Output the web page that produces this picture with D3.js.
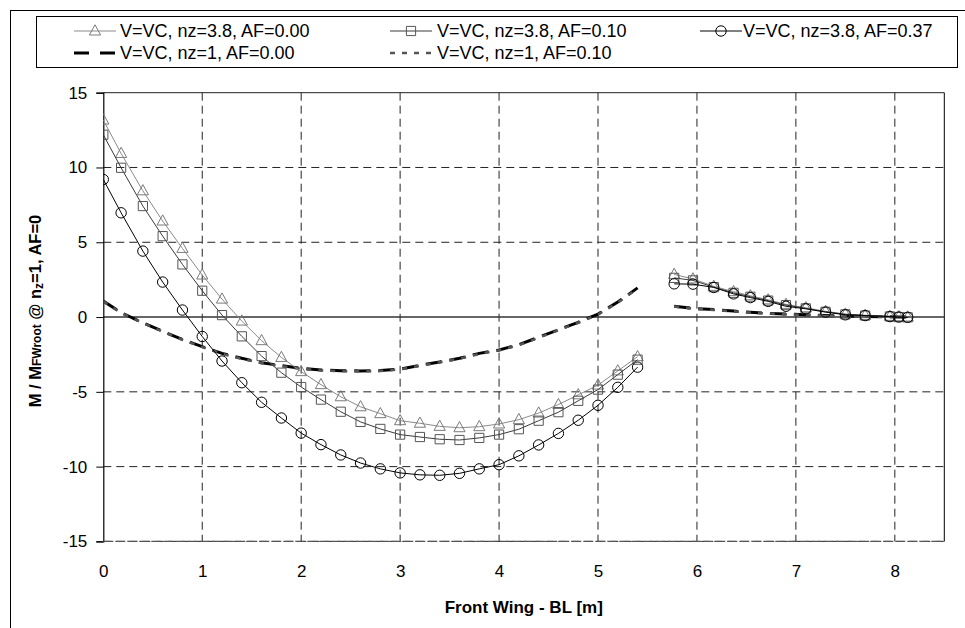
<!DOCTYPE html>
<html>
<head>
<meta charset="utf-8">
<script src="https://cdn.jsdelivr.net/npm/d3@7/dist/d3.min.js"></script>
<style>
  html, body { margin: 0; padding: 0; background: #fff; }
  svg { display: block; font-family: "Liberation Sans", Arial, sans-serif; }
</style>
</head>
<body>
<svg id="chart" width="965" height="628"></svg>
<script>
// Span stations along the front wing [m], inboard and outboard panels
const spanInboard  = [0, 0.18, 0.4, 0.6, 0.8, 1.0, 1.2, 1.4, 1.6, 1.8, 2.0, 2.2, 2.4, 2.6, 2.8,
                      3.0, 3.2, 3.4, 3.6, 3.8, 4.0, 4.2, 4.4, 4.6, 4.8, 5.0, 5.2, 5.4];
const spanOutboard = [5.77, 5.96, 6.17, 6.37, 6.54, 6.72, 6.9, 7.1, 7.3, 7.5, 7.7, 7.95, 8.04, 8.13];

// Bending moment ratio M / M_FWroot (nz=1, AF=0)
const nz38_af000_in  = [13.17, 10.94, 8.44, 6.42, 4.59, 2.81, 1.2, -0.27, -1.58, -2.70, -3.65, -4.52, -5.33, -6.0,
                        -6.46, -6.93, -7.10, -7.31, -7.40, -7.33, -7.15, -6.86, -6.42, -5.85, -5.2, -4.55, -3.6, -2.65];
const nz38_af000_out = [2.85, 2.55, 2.05, 1.7, 1.42, 1.15, 0.85, 0.62, 0.38, 0.2, 0.12, 0.05, 0.02, 0.0];

const nz38_af010_in  = [12.19, 9.98, 7.42, 5.41, 3.52, 1.76, 0.13, -1.29, -2.61, -3.72, -4.68, -5.52, -6.33, -7.01,
                        -7.48, -7.86, -8.02, -8.17, -8.22, -8.08, -7.86, -7.50, -6.93, -6.36, -5.6, -4.85, -3.85, -2.85];
const nz38_af010_out = [2.62, 2.45, 2.0, 1.62, 1.36, 1.1, 0.8, 0.58, 0.35, 0.18, 0.1, 0.04, 0.0, -0.02];

const nz38_af037_in  = [9.2, 6.97, 4.41, 2.34, 0.47, -1.3, -2.94, -4.39, -5.70, -6.75, -7.76, -8.53, -9.22, -9.76,
                        -10.15, -10.42, -10.55, -10.58, -10.45, -10.15, -9.87, -9.28, -8.55, -7.78, -6.9, -5.9, -4.7, -3.35];
const nz38_af037_out = [2.22, 2.2, 1.98, 1.55, 1.3, 1.05, 0.72, 0.55, 0.33, 0.15, 0.1, 0.03, 0.0, -0.02];

const nz1_af000_in   = [1.07, 0.3, -0.38, -0.95, -1.5, -1.98, -2.43, -2.76, -3.05, -3.25, -3.43, -3.54, -3.59, -3.6,
                        -3.58, -3.48, -3.23, -3.0, -2.76, -2.43, -2.2, -1.85, -1.35, -0.85, -0.35, 0.2, 1.0, 1.95];
const nz1_af000_out  = [0.72, 0.58, 0.5, 0.4, 0.32, 0.25, 0.2, 0.15, 0.1, 0.06, 0.04, 0.02, 0.0, 0.0];

const nz1_af010_in   = [1.05, 0.28, -0.4, -0.97, -1.52, -2.0, -2.45, -2.79, -3.08, -3.28, -3.46, -3.57, -3.62, -3.63,
                        -3.6, -3.5, -3.26, -3.03, -2.78, -2.46, -2.22, -1.88, -1.38, -0.88, -0.38, 0.17, 0.97, 1.9];
const nz1_af010_out  = [0.7, 0.56, 0.48, 0.38, 0.3, 0.24, 0.18, 0.14, 0.09, 0.05, 0.03, 0.01, 0.0, 0.0];

const legendLabels = ["V=VC, nz=3.8, AF=0.00", "V=VC, nz=3.8, AF=0.10", "V=VC, nz=3.8, AF=0.37",
                      "V=VC, nz=1, AF=0.00", "V=VC, nz=1, AF=0.10"];
const xTicks = [0, 1, 2, 3, 4, 5, 6, 7, 8];
const yTicks = [-15, -10, -5, 0, 5, 10, 15];
const xTitle = "Front Wing - BL [m]";

// ---- series styling ----
const series = [
  { name: legendLabels[0], inb: nz38_af000_in, outb: nz38_af000_out, line: "#8a8a8a", width: 1, marker: "triangle", mColor: "#7a7a7a" },
  { name: legendLabels[1], inb: nz38_af010_in, outb: nz38_af010_out, line: "#3a3a3a", width: 1, marker: "square",   mColor: "#555" },
  { name: legendLabels[2], inb: nz38_af037_in, outb: nz38_af037_out, line: "#000",    width: 1, marker: "circle",   mColor: "#000" },
  { name: legendLabels[3], inb: nz1_af000_in,  outb: nz1_af000_out,  line: "#000",    width: 3, dash: "16,8" },
  { name: legendLabels[4], inb: nz1_af010_in,  outb: nz1_af010_out,  line: "#555",    width: 2.6, dash: "5,7" }
];

const svg = d3.select("#chart");
const W = 965, H = 628;

// outer frame
svg.append("rect").attr("x", 10.5).attr("y", 10.5).attr("width", W).attr("height", H)
  .attr("fill", "none").attr("stroke", "#000").attr("stroke-width", 1);

const x = d3.scaleLinear().domain([0, 8.5]).range([103.3, 944.3]);
const y = d3.scaleLinear().domain([-15, 15]).range([541.4, 92.7]);

const plot = svg.append("g");

// dashed grid
plot.append("g").selectAll("line").data(xTicks.filter(d => d > 0)).join("line")
  .attr("x1", d => x(d)).attr("x2", d => x(d)).attr("y1", y(15)).attr("y2", y(-15))
  .attr("stroke", "#222").attr("stroke-width", 1).attr("stroke-dasharray", "8,5");
plot.append("g").selectAll("line").data(yTicks.filter(d => d !== 0 && d !== 15)).join("line")
  .attr("x1", x(0)).attr("x2", x(8.5)).attr("y1", d => y(d)).attr("y2", d => y(d))
  .attr("stroke", "#222").attr("stroke-width", 1).attr("stroke-dasharray", "8,5");

// top and right frame of the plot
plot.append("line").attr("x1", x(0)).attr("x2", x(8.5)).attr("y1", y(15)).attr("y2", y(15))
  .attr("stroke", "#222").attr("stroke-width", 1);
plot.append("line").attr("x1", x(8.5)).attr("x2", x(8.5)).attr("y1", y(15)).attr("y2", y(-15))
  .attr("stroke", "#000").attr("stroke-width", 1);

// zero line
plot.append("line").attr("x1", x(0)).attr("x2", x(8.5)).attr("y1", y(0)).attr("y2", y(0))
  .attr("stroke", "#333").attr("stroke-width", 1.4);

// y axis with outward ticks
const yAxis = d3.axisLeft(y).tickValues(yTicks).tickSize(7).tickPadding(9).tickFormat(d => String(d));
const yg = svg.append("g").attr("transform", `translate(${x(0)},0)`).call(yAxis);
yg.select(".domain").attr("stroke", "#000").attr("stroke-width", 1.2);
yg.selectAll(".tick line").attr("stroke", "#000");
yg.selectAll(".tick text").attr("font-size", 17).attr("fill", "#000")
  .attr("font-family", "'Liberation Sans', Arial, sans-serif");

// x axis: labels only
const xAxis = d3.axisBottom(x).tickValues(xTicks).tickSize(0).tickPadding(24).tickFormat(d => String(d));
const xg = svg.append("g").attr("transform", `translate(0,${y(-15)})`).call(xAxis);
xg.select(".domain").remove();
xg.selectAll(".tick text").attr("font-size", 17).attr("fill", "#000")
  .attr("font-family", "'Liberation Sans', Arial, sans-serif");

// axis titles
svg.append("text").attr("x", (x(0) + x(8.5)) / 2).attr("y", 613).attr("text-anchor", "middle")
  .attr("font-size", 17).attr("font-weight", "bold").text(xTitle);

const yt = svg.append("text").attr("transform", "translate(41,311) rotate(-90)")
  .attr("text-anchor", "middle").attr("font-size", 16.5).attr("font-weight", "bold");
yt.append("tspan").text("M / M");
yt.append("tspan").attr("font-size", 12).text("FWroot");
yt.append("tspan").text(" @ n");
yt.append("tspan").attr("font-size", 12).attr("dy", 2).text("z");
yt.append("tspan").attr("dy", -2).text("=1, AF=0");

// ---- data marks ----
const line = d3.line().x(d => x(d[0])).y(d => y(d[1]));
const clipId = "plotclip";
svg.append("clipPath").attr("id", clipId).append("rect")
  .attr("x", x(0)).attr("y", y(15)).attr("width", x(8.5) - x(0)).attr("height", y(-15) - y(15));
const marks = svg.append("g").attr("clip-path", `url(#${clipId})`);

function markerPath(kind) {
  if (kind === "triangle") return "M0,-6.2L5.6,4L-5.6,4Z";
  if (kind === "square") return "M-4.6,-4.6H4.6V4.6H-4.6Z";
  return d3.arc()({ innerRadius: 0, outerRadius: 5.2, startAngle: 0, endAngle: 2 * Math.PI });
}

// dashed nz=1 lines first, then marked curves on top
const order = [3, 4, 0, 1, 2];
order.forEach(i => {
  const s = series[i];
  [[spanInboard, s.inb], [spanOutboard, s.outb]].forEach(([xs, ys]) => {
    const pts = xs.map((v, k) => [v, ys[k]]);
    marks.append("path").attr("d", line(pts)).attr("fill", "none")
      .attr("stroke", s.line).attr("stroke-width", s.width)
      .attr("stroke-dasharray", s.dash || null);
    if (s.marker) {
      marks.append("g").selectAll("path").data(pts).join("path")
        .attr("transform", d => `translate(${x(d[0])},${y(d[1])})`)
        .attr("d", markerPath(s.marker))
        .attr("fill", "none").attr("stroke", s.mColor).attr("stroke-width", 1);
    }
  });
});

// bottom frame drawn over the grid
svg.append("line").attr("x1", x(0)).attr("x2", x(8.5)).attr("y1", y(-15)).attr("y2", y(-15))
  .attr("stroke", "#555").attr("stroke-width", 1.2).attr("stroke-dasharray", "10,2");

// ---- legend ----
const lg = svg.append("g");
lg.append("rect").attr("x", 36.5).attr("y", 16.5).attr("width", 921).attr("height", 51)
  .attr("fill", "#fff").attr("stroke", "#000").attr("stroke-width", 1);

const legendPos = [
  { sx: 74, tx: 120, ty: 31 }, { sx: 390, tx: 437, ty: 31 }, { sx: 700, tx: 743, ty: 31 },
  { sx: 74, tx: 120, ty: 53 }, { sx: 390, tx: 437, ty: 53 }
];
series.forEach((s, i) => {
  const p = legendPos[i];
  const g = lg.append("g");
  const sw = 42;
  g.append("line").attr("x1", p.sx).attr("x2", p.sx + sw).attr("y1", p.ty).attr("y2", p.ty)
    .attr("stroke", s.line).attr("stroke-width", s.width)
    .attr("stroke-dasharray", s.dash ? (i === 3 ? "15,11" : "5,7") : null);
  if (s.marker) {
    g.append("path").attr("transform", `translate(${p.sx + sw / 2},${p.ty})`)
      .attr("d", markerPath(s.marker)).attr("fill", "none")
      .attr("stroke", s.mColor).attr("stroke-width", 1);
  }
  g.append("text").attr("x", p.tx).attr("y", p.ty).attr("dy", "0.35em")
    .attr("font-size", 18).text(s.name);
});
</script>
</body>
</html>
